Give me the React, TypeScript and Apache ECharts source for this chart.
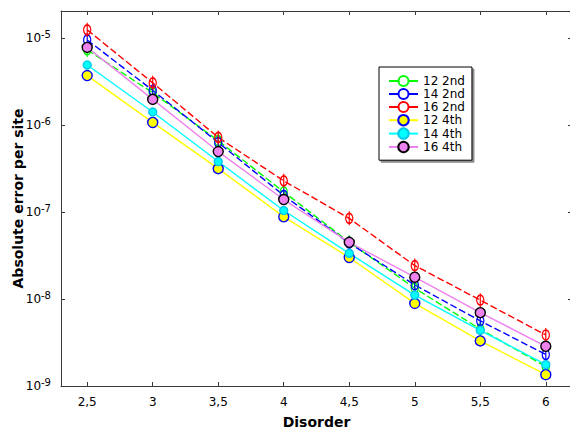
import React, { useEffect, useRef } from "react";
import * as echarts from "echarts";

const disorder = [2.5, 3, 3.5, 4, 4.5, 5, 5.5, 6];
const err12_2nd = [7.3e-6, 2.35e-6, 6.6e-7, 1.7e-7, 4.5e-8, 1.33e-8, 4.5e-9, 1.67e-9];
const err14_2nd = [9.5e-6, 2.5e-6, 6.3e-7, 1.55e-7, 4.4e-8, 1.45e-8, 5.6e-9, 2.3e-9];
const err16_2nd = [1.24e-5, 3.05e-6, 7.2e-7, 2.28e-7, 8.45e-8, 2.42e-8, 9.7e-9, 3.86e-9];
const err12_4th = [3.7e-6, 1.07e-6, 3.15e-7, 8.8e-8, 3.0e-8, 8.9e-9, 3.3e-9, 1.35e-9];
const err14_4th = [4.9e-6, 1.41e-6, 3.8e-7, 1.04e-7, 3.35e-8, 1.11e-8, 4.37e-9, 1.76e-9];
const err16_4th = [7.8e-6, 1.97e-6, 4.95e-7, 1.39e-7, 4.48e-8, 1.78e-8, 6.97e-9, 2.86e-9];
const seriesNames = ["12 2nd", "14 2nd", "16 2nd", "12 4th", "14 4th", "16 4th"];
const xTicks = [2.5, 3, 3.5, 4, 4.5, 5, 5.5, 6];
const yTicks = [1e-9, 1e-8, 1e-7, 1e-6, 1e-5];

const FONT = "Tahoma, 'DejaVu Sans', sans-serif";
const AXIS_COLOR = "#3a3a3a";
const ERRBAR_SYMBOL = "path://M5,0 L5,14 M10,7 A5,5 0 1 1 0,7 A5,5 0 1 1 10,7 Z";
const LEGEND_OPEN_ICON =
  "path://M0,6.5 L9.5,6.5 M19.5,6.5 L29,6.5 M19.5,6.5 A5,5 0 1 1 9.5,6.5 A5,5 0 1 1 19.5,6.5 Z";

function pairs(ys: number[]) {
  return disorder.map((x, i) => [x, ys[i]]);
}

export default function App() {
  const ref = useRef<HTMLDivElement>(null);
  useEffect(() => {
    if (!ref.current) return;
    const chart = echarts.init(ref.current, null, { renderer: "svg" });
    const second = (name: string, ys: number[], color: string) => ({
      name,
      type: "line",
      data: pairs(ys),
      symbol: ERRBAR_SYMBOL,
      symbolSize: [10, 14],
      symbolKeepAspect: true,
      lineStyle: { color, width: 1.4, type: [7, 3] },
      itemStyle: { color: "rgba(0,0,0,0)", borderColor: color, borderWidth: 1.4 },
      emphasis: { disabled: true },
    });
    const fourth = (name: string, ys: number[], color: string, border: string, size: number) => ({
      name,
      type: "line",
      data: pairs(ys),
      symbol: "circle",
      symbolSize: size,
      lineStyle: { color, width: 1.4, type: "solid" },
      itemStyle: { color, borderColor: border, borderWidth: 1.4 },
      emphasis: { disabled: true },
    });
    const yMax = Math.pow(10, -5 + 27 / 87);
    const xAxisBase = {
      type: "value",
      min: 2.3,
      max: 6.2,
      splitLine: { show: false },
      axisLine: { show: true, onZero: false, lineStyle: { color: AXIS_COLOR, width: 1 } },
      axisTick: { show: true, inside: true, length: 4, customValues: xTicks, lineStyle: { color: AXIS_COLOR } },
    };
    const yAxisBase = {
      type: "log",
      logBase: 10,
      min: 1e-9,
      max: yMax,
      splitLine: { show: false },
      minorTick: { show: false },
      axisLine: { show: true, onZero: false, lineStyle: { color: AXIS_COLOR, width: 1 } },
      axisTick: { show: true, inside: true, length: 4, customValues: yTicks, lineStyle: { color: AXIS_COLOR } },
    };
    chart.setOption({
      animation: false,
      textStyle: { fontFamily: FONT },
      grid: { left: 61, right: -2, top: 11, bottom: 43, containLabel: false, outerBoundsMode: "none" },
      xAxis: [
        {
          ...xAxisBase,
          position: "bottom",
          name: "Disorder",
          nameLocation: "middle",
          nameGap: 29,
          nameTextStyle: { fontFamily: FONT, fontSize: 14, fontWeight: "bold", color: "#000", verticalAlign: "top" },
          axisLabel: {
            show: true,
            margin: 10,
            customValues: xTicks,
            fontFamily: FONT,
            fontSize: 12,
            color: "#000",
            formatter: (v: number) => String(v).replace(".", ","),
          },
        },
        {
          ...xAxisBase,
          position: "top",
          axisLabel: { show: false },
        },
      ],
      yAxis: [
        {
          ...yAxisBase,
          position: "left",
          name: "Absolute error per site",
          nameLocation: "middle",
          nameGap: 36,
          nameMoveOverlap: false,
          nameTextStyle: { fontFamily: FONT, fontSize: 14, fontWeight: "bold", color: "#000" },
          axisLabel: {
            show: true,
            margin: 10,
            customValues: yTicks,
            formatter: (v: number) => {
              const e = Math.round(Math.log10(v));
              if (Math.abs(Math.log10(v) - e) > 1e-6) return "";
              return "{b|10}{s|" + e + "}";
            },
            rich: {
              b: { fontFamily: FONT, fontSize: 12, color: "#000", lineHeight: 18 },
              s: { fontFamily: FONT, fontSize: 10, color: "#000", lineHeight: 11, verticalAlign: "top" },
            },
          },
        },
        {
          ...yAxisBase,
          position: "right",
          axisLabel: { show: false },
        },
      ],
      legend: {
        orient: "vertical",
        left: 379,
        top: 67,
        padding: [8, 7, 7, 9],
        itemWidth: 29,
        itemHeight: 13,
        itemGap: 1,
        backgroundColor: "#fff",
        borderColor: "#000",
        borderWidth: 1,
        shadowColor: "rgba(0,0,0,0.45)",
        shadowOffsetX: 2,
        shadowOffsetY: 2,
        shadowBlur: 0,
        lineStyle: { type: "solid" },
        textStyle: { fontFamily: FONT, fontSize: 12, color: "#000" },
        data: seriesNames.map((n, i) => (i < 3 ? { name: n, icon: LEGEND_OPEN_ICON } : { name: n })),
      },
      series: [
        second(seriesNames[0], err12_2nd, "#00ff00"),
        second(seriesNames[1], err14_2nd, "#0000ff"),
        second(seriesNames[2], err16_2nd, "#ff0000"),
        fourth(seriesNames[3], err12_4th, "#ffff00", "#0000ff", 10),
        fourth(seriesNames[4], err14_4th, "#00ffff", "#00c8e8", 8),
        fourth(seriesNames[5], err16_4th, "#ee82ee", "#000000", 10),
      ],
    });
    return () => chart.dispose();
  }, []);
  return (
    <div
      ref={ref}
      style={{ position: "fixed", left: 0, top: 0, width: 570, height: 429, background: "#fff" }}
    />
  );
}
